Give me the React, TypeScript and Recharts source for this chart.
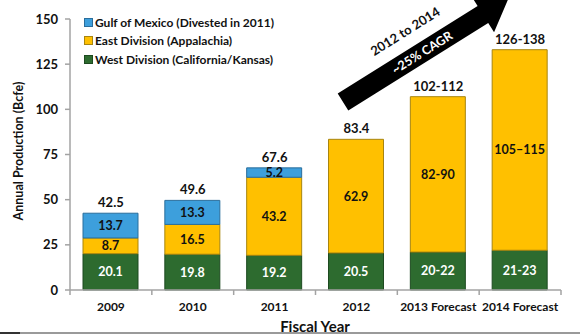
import React from 'react';
import { ComposedChart, Bar, Line, XAxis, YAxis, LabelList, Label } from 'recharts';

const categories = ['2009', '2010', '2011', '2012', '2013 Forecast', '2014 Forecast'];
const westValues = [20.1, 19.8, 19.2, 20.5, 21, 22];
const eastValues = [8.7, 16.5, 43.2, 62.9, 86, 111];
const gulfValues: (number | null)[] = [13.7, 13.3, 5.2, null, null, null];
const westLabels = ['20.1', '19.8', '19.2', '20.5', '20-22', '21-23'];
const eastLabels = ['8.7', '16.5', '43.2', '62.9', '82-90', '105–115'];
const gulfLabels = ['13.7', '13.3', '5.2', '', '', ''];
const totalLabels = ['42.5', '49.6', '67.6', '83.4', '102-112', '126-138'];
const yTicks = [0, 25, 50, 75, 100, 125, 150];

const seriesInfo = [
  { key: 'gulf', name: 'Gulf of Mexico (Divested in 2011)', color: '#3d9fdc', stroke: '#2a6e9c' },
  { key: 'east', name: 'East Division (Appalachia)', color: '#ffc000', stroke: '#a8850f' },
  { key: 'west', name: 'West Division (California/Kansas)', color: '#2d6b2f', stroke: '#1d4a20' },
];

const data = categories.map((c, i) => ({
  category: c,
  west: westValues[i],
  east: eastValues[i],
  gulf: gulfValues[i],
  westLabel: westLabels[i],
  eastLabel: eastLabels[i],
  gulfLabel: gulfLabels[i],
  total: westValues[i] + eastValues[i] + (gulfValues[i] ?? 0),
  totalLabel: totalLabels[i],
}));

const W = 580;
const H = 335;
const M = { top: 19, right: 19, left: 0, bottom: 0 };
const Y_W = 70;
const FONT = 'Lato, "Open Sans", sans-serif';
const AXIS = '#a3a3a3';
const BAND = (W - M.left - M.right - Y_W) / categories.length;

const XTick = (props: any) => {
  const { x, y, payload, index } = props;
  return (
    <g>
      <line x1={x - BAND / 2} x2={x - BAND / 2} y1={y} y2={y + 5} stroke={AXIS} strokeWidth={1.5} />
      {index === categories.length - 1 && (
        <line x1={x + BAND / 2} x2={x + BAND / 2} y1={y} y2={y + 5} stroke={AXIS} strokeWidth={1.5} />
      )}
      <text x={x} y={y + 21} textAnchor="middle" fontSize={12} fontWeight={700} fill="#111" fontFamily={FONT}>
        {payload.value}
      </text>
    </g>
  );
};

// arrow geometry (decoration)
const ANG_DEG = 32;
const ang = (ANG_DEG * Math.PI) / 180;
const u = [Math.cos(ang), -Math.sin(ang)];
const n = [Math.sin(ang), Math.cos(ang)];
const T = [343, 102];
const hw = 10;
const shaft = 165;
const headW = 21;
const headL = 30;
const Bc = [T[0] + shaft * u[0], T[1] + shaft * u[1]];
const tip = [Bc[0] + headL * u[0], Bc[1] + headL * u[1]];
const pts = [
  [T[0] - hw * n[0], T[1] - hw * n[1]],
  [Bc[0] - hw * n[0], Bc[1] - hw * n[1]],
  [Bc[0] - headW * n[0], Bc[1] - headW * n[1]],
  tip,
  [Bc[0] + headW * n[0], Bc[1] + headW * n[1]],
  [Bc[0] + hw * n[0], Bc[1] + hw * n[1]],
  [T[0] + hw * n[0], T[1] + hw * n[1]],
]
  .map((p) => p.join(','))
  .join(' ');

export default function App() {
  return (
    <div style={{ position: 'relative', width: W, height: H, background: '#fff', overflow: 'hidden' }}>
      <style>{`body{margin:0;}`}</style>
      <ComposedChart width={W} height={H} data={data} margin={M} barCategoryGap={0}>
        <YAxis
          type="number"
          domain={[0, 150]}
          ticks={yTicks}
          width={Y_W}
          axisLine={{ stroke: AXIS, strokeWidth: 1.5 }}
          tickLine={{ stroke: AXIS, strokeWidth: 1.5 }}
          tickSize={5}
          tickMargin={7}
          tick={{ fontSize: 13, fontWeight: 700, fill: '#111', fontFamily: FONT }}
        >
          <Label
            content={() => (
              <text
                transform="translate(18,151) rotate(-90)"
                textAnchor="middle"
                dominantBaseline="central"
                fontSize={12.5}
                fontWeight={700}
                fill="#111"
                fontFamily={FONT}
              >
                Annual Production (Bcfe)
              </text>
            )}
          />
        </YAxis>
        <XAxis
          dataKey="category"
          height={H - 290}
          axisLine={{ stroke: AXIS, strokeWidth: 1.5 }}
          tickLine={false}
          tickSize={0}
          tickMargin={0}
          interval={0}
          tick={<XTick />}
        >
          <Label
            content={() => (
              <text x={315} y={326} textAnchor="middle" dominantBaseline="central" fontSize={15} fontWeight={700} fill="#111" fontFamily={FONT}>
                Fiscal Year
              </text>
            )}
          />
        </XAxis>
        <Bar dataKey="west" stackId="s" barSize={55} fill={seriesInfo[2].color} stroke={seriesInfo[2].stroke} strokeWidth={1} isAnimationActive={false}>
          <LabelList dataKey="westLabel" position="center" fill="#fff" fontSize={12.5} fontWeight={700} fontFamily={FONT} />
        </Bar>
        <Bar dataKey="east" stackId="s" barSize={55} fill={seriesInfo[1].color} stroke={seriesInfo[1].stroke} strokeWidth={1} isAnimationActive={false}>
          <LabelList dataKey="eastLabel" position="center" fill="#111" fontSize={12.5} fontWeight={700} fontFamily={FONT} />
        </Bar>
        <Bar dataKey="gulf" stackId="s" barSize={55} fill={seriesInfo[0].color} stroke={seriesInfo[0].stroke} strokeWidth={1} isAnimationActive={false}>
          <LabelList dataKey="gulfLabel" position="center" fill="#111" fontSize={12.5} fontWeight={700} fontFamily={FONT} />
        </Bar>
        <Line dataKey="total" stroke="none" dot={false} activeDot={false} isAnimationActive={false} legendType="none">
          <LabelList dataKey="totalLabel" position="top" offset={6} fill="#111" fontSize={13} fontWeight={700} fontFamily={FONT} />
        </Line>
      </ComposedChart>
      <div
        style={{
          position: 'absolute',
          left: 84,
          top: 13,
          fontFamily: FONT,
          fontSize: 12,
          fontWeight: 700,
          color: '#111',
        }}
      >
        {seriesInfo.map((s) => (
          <div key={s.key} style={{ display: 'flex', alignItems: 'center', height: 18.5 }}>
            <span
              style={{
                display: 'inline-block',
                width: 7,
                height: 7,
                background: s.color,
                border: `1px solid ${s.stroke}`,
                marginRight: 2,
              }}
            />
            <span>{s.name}</span>
          </div>
        ))}
      </div>
      <svg width={W} height={H} style={{ position: 'absolute', left: 0, top: 0, pointerEvents: 'none' }}>
        <polygon points={pts} fill="#000" />
        <text
          transform={`translate(405,31) rotate(-${ANG_DEG})`}
          textAnchor="middle"
          dominantBaseline="central"
          fontSize={13}
          fontWeight={700}
          fill="#111"
          fontFamily={FONT}
        >
          2012 to 2014
        </text>
        <text
          transform={`translate(422,52.5) rotate(-${ANG_DEG})`}
          textAnchor="middle"
          dominantBaseline="central"
          fontSize={12.5}
          fontWeight={700}
          fill="#fff"
          fontFamily={FONT}
        >
          ~25% CAGR
        </text>
        <line x1={0} x2={W} y1={333} y2={333} stroke="#9a9a9a" strokeWidth={2} />
        <line x1={0} x2={20} y1={333} y2={333} stroke="#333" strokeWidth={2} />
      </svg>
    </div>
  );
}
